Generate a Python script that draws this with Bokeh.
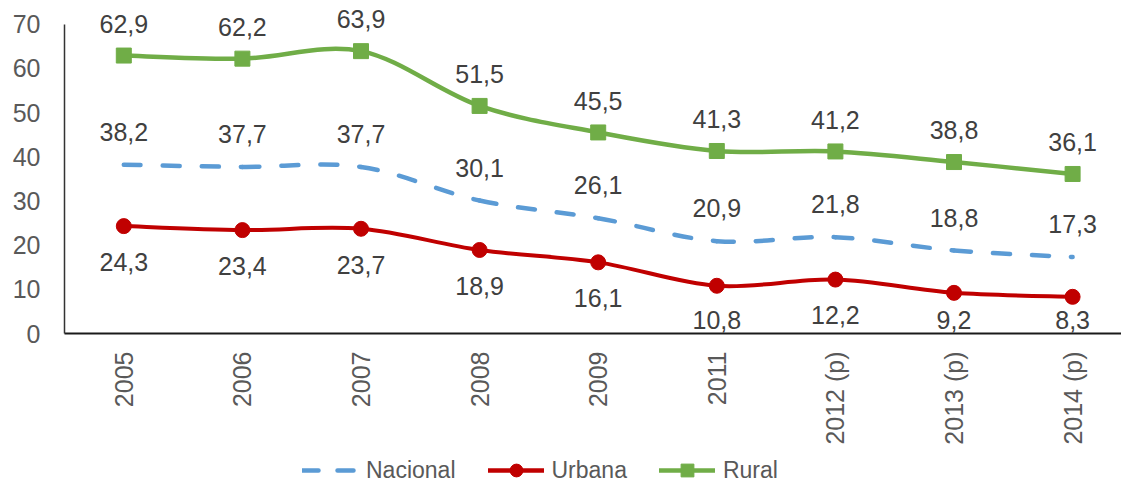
import math
from bokeh.plotting import figure
from bokeh.layouts import column
from bokeh.models import (ColumnDataSource, Range1d, FixedTicker, Legend, LegendItem)
from bokeh.core.properties import value
from bokeh.embed import file_html
from bokeh.resources import INLINE

# ---- data ----
categories = ["2005", "2006", "2007", "2008", "2009", "2011", "2012 (p)", "2013 (p)", "2014 (p)"]
nacional = [38.2, 37.7, 37.7, 30.1, 26.1, 20.9, 21.8, 18.8, 17.3]
urbana = [24.3, 23.4, 23.7, 18.9, 16.1, 10.8, 12.2, 9.2, 8.3]
rural = [62.9, 62.2, 63.9, 51.5, 45.5, 41.3, 41.2, 38.8, 36.1]
y_ticks = [0, 10, 20, 30, 40, 50, 60, 70]

FONT = "Liberation Sans"
C_NAC = "#5B9BD5"
C_URB = "#C00000"
C_RUR = "#70AD47"

W = 1121
H_MAIN = 447
H_LEG = 40
FRAME_LEFT = 64
FRAME_TOP = 6
FRAME_BOTTOM = 334
Y_MAX = 74.0
PX = (FRAME_BOTTOM - FRAME_TOP) / Y_MAX   # pixels per unit
CAT_PX = 118.6                              # pixels per category
X_END = -0.5 + (W - FRAME_LEFT) / CAT_PX

xs = list(range(len(categories)))

p = figure(width=W, height=H_MAIN, output_backend="svg", toolbar_location=None,
           x_range=Range1d(-0.5, X_END), y_range=Range1d(0, Y_MAX),
           min_border_left=FRAME_LEFT, min_border_right=0, min_border_top=FRAME_TOP,
           min_border_bottom=H_MAIN - FRAME_BOTTOM)
p.outline_line_color = None
p.xgrid.visible = False
p.ygrid.visible = False

# axes
p.xaxis.ticker = FixedTicker(ticks=xs)
p.xaxis.major_label_overrides = {i: c for i, c in enumerate(categories)}
p.xaxis.major_label_orientation = math.pi / 2
p.yaxis.ticker = FixedTicker(ticks=y_ticks)
p.yaxis.bounds = (0, 70)
for ax in (p.xaxis[0], p.yaxis[0]):
    ax.major_tick_line_color = None
    ax.minor_tick_line_color = None
    ax.major_tick_out = 0
    ax.major_tick_in = 0
    ax.minor_tick_out = 0
    ax.major_label_text_font = FONT
    ax.major_label_text_font_size = "25px"
    ax.major_label_text_color = "#595959"
p.xaxis.axis_line_color = "#1a1a1a"
p.xaxis.axis_line_width = 2
p.xaxis.major_label_standoff = 18
p.yaxis.axis_line_color = "#333333"
p.yaxis.axis_line_width = 1.5
p.yaxis.major_label_standoff = 24


def smooth_segments(x, y):
    n = len(x)
    d = dict(x0=[], y0=[], x1=[], y1=[], cx0=[], cy0=[], cx1=[], cy1=[])
    for i in range(n - 1):
        xm, ym = x[max(i - 1, 0)], y[max(i - 1, 0)]
        xp, yp = x[min(i + 2, n - 1)], y[min(i + 2, n - 1)]
        d["x0"].append(x[i]); d["y0"].append(y[i])
        d["x1"].append(x[i + 1]); d["y1"].append(y[i + 1])
        d["cx0"].append(x[i] + (x[i + 1] - xm) / 6)
        d["cy0"].append(y[i] + (y[i + 1] - ym) / 6)
        d["cx1"].append(x[i + 1] - (xp - x[i]) / 6)
        d["cy1"].append(y[i + 1] - (yp - y[i]) / 6)
    return ColumnDataSource(d)


BZ = dict(x0="x0", y0="y0", x1="x1", y1="y1", cx0="cx0", cy0="cy0", cx1="cx1", cy1="cy1")
p.bezier(source=smooth_segments(xs, nacional), line_color=C_NAC, line_width=4.5,
         line_dash="17 22", line_cap="round", **BZ)
p.bezier(source=smooth_segments(xs, urbana), line_color=C_URB, line_width=4,
         line_cap="round", **BZ)
p.bezier(source=smooth_segments(xs, rural), line_color=C_RUR, line_width=4.5,
         line_cap="round", **BZ)

p.scatter(xs, urbana, marker="circle", size=15, fill_color=C_URB, line_color=C_URB)
p.scatter(xs, rural, marker="square", size=15, fill_color=C_RUR, line_color=C_RUR)


# data labels
def fmt(v):
    return f"{v:.1f}".replace(".", ",")


label_floor = 14 / PX   # labels stay inside the plot area
placements = (
    (rural, [v + 32 / PX for v in rural]),
    (nacional, [v + 33 / PX for v in nacional]),
    (urbana, [max(v - 36 / PX, label_floor) for v in urbana]),
)
for vals, ly in placements:
    src = ColumnDataSource(dict(x=xs, y=ly, t=[fmt(v) for v in vals]))
    p.text(x="x", y="y", text="t", source=src, text_align="center",
           text_baseline="middle", text_font=value(FONT), text_font_size="25px",
           text_color="#404040")

# ---- legend strip (its renderers sit outside its visible range; only styles show) ----
pl = figure(width=W, height=H_LEG, output_backend="svg", toolbar_location=None,
            x_range=Range1d(-0.5, X_END), y_range=Range1d(1000, 1001), min_border=0,
            x_axis_location=None, y_axis_location=None)
pl.outline_line_color = None
pl.grid.visible = False

l_nac = pl.line(xs, nacional, line_color=C_NAC, line_width=4.5, line_dash="16 19", line_cap="round")
l_urb = pl.line(xs, urbana, line_color=C_URB, line_width=4.5, line_cap="round")
l_rur = pl.line(xs, rural, line_color=C_RUR, line_width=4.5, line_cap="round")
m_urb = pl.scatter(xs, urbana, marker="circle", fill_color=C_URB, line_color=C_URB)
m_rur = pl.scatter(xs, rural, marker="square", fill_color=C_RUR, line_color=C_RUR)

legend = Legend(items=[
    LegendItem(label="Nacional", renderers=[l_nac]),
    LegendItem(label="Urbana", renderers=[l_urb, m_urb]),
    LegendItem(label="Rural", renderers=[l_rur, m_rur]),
], orientation="horizontal", location=(302 - FRAME_LEFT, 1), padding=0, margin=0,
    border_line_color=None, background_fill_alpha=0, glyph_width=56, glyph_height=32,
    label_standoff=8, spacing=32, label_text_font=FONT, label_text_font_size="23px",
    label_text_color="#595959", label_text_baseline="middle")
pl.add_layout(legend, "center")

layout = column(p, pl, spacing=0)
open("out.html", "w").write(file_html(layout, INLINE))
